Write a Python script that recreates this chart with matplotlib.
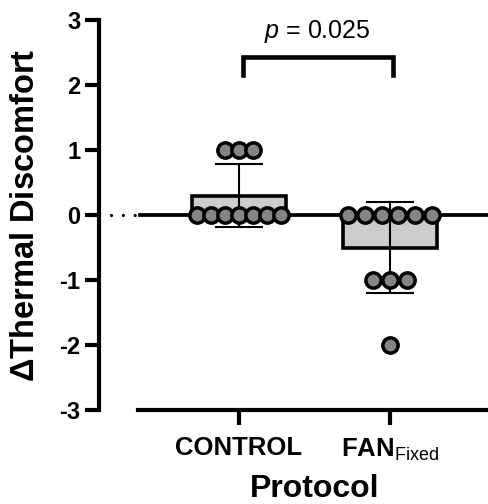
import numpy as np
import matplotlib
matplotlib.use('Agg')
import matplotlib.pyplot as plt

plt.rcParams['font.family'] = ['Liberation Sans', 'DejaVu Sans']
plt.rcParams['mathtext.fontset'] = 'custom'
plt.rcParams['mathtext.rm'] = 'Liberation Sans'
plt.rcParams['mathtext.bf'] = 'Liberation Sans:bold'
plt.rcParams['mathtext.it'] = 'Liberation Sans:italic'

# Data: change in thermal discomfort per participant
groups = ['CONTROL', r'$\mathbf{FAN}_{\mathrm{Fixed}}$']
control = [1, 1, 1, 0, 0, 0, 0, 0, 0, 0]
fan_fixed = [0, 0, 0, 0, 0, 0, -1, -1, -1, -2]
values = [control, fan_fixed]
p_text = r'$p$ = 0.025'
y_ticks = [-3, -2, -1, 0, 1, 2, 3]

means = [np.mean(v) for v in values]
sds = [np.std(v, ddof=1) for v in values]
xpos = np.arange(len(groups))

# horizontal spread of points sharing a value (per group)
spread = [0.093, 0.111]

fig = plt.figure(figsize=(4.89, 5.04), dpi=100)
ax = fig.add_axes([99 / 489, 94 / 504, 390 / 489, 390 / 504])

ax.bar(xpos, means, width=0.62, color='#cccccc', edgecolor='black',
       linewidth=2.6, zorder=2)
ax.errorbar(xpos, means, yerr=sds, fmt='none', ecolor='black',
            elinewidth=1.5, capsize=17.5, capthick=1.5, zorder=3)

for i, vals in enumerate(values):
    vals = np.array(vals)
    for v in np.unique(vals):
        k = np.sum(vals == v)
        offs = (np.arange(k) - (k - 1) / 2) * spread[i]
        ax.plot(xpos[i] + offs, np.full(k, v), 'o', ms=11, mfc='#858585',
                mec='black', mew=2.5, zorder=4, clip_on=False)

# baseline at zero: dotted stub then solid line
ax.axhline(0, xmin=0.105, xmax=1, color='black', lw=2.7, zorder=1)
ax.axhline(0, xmin=0.03, xmax=0.097, color='black', lw=2.3,
           linestyle=(0, (0.01, 3.7)), dash_capstyle='round', zorder=1)

# significance bracket
bx = [0.025, 0.025, 1.02, 1.02]
by = [2.15, 2.435, 2.435, 2.15]
ax.plot(bx, by, color='black', lw=3.3, solid_joinstyle='miter', zorder=3)
ax.text(0.52, 2.72, p_text, ha='center', va='baseline', fontsize=18)

ax.set_xlim(-0.927, 1.656)
ax.set_ylim(-3, 3)
ax.set_yticks(y_ticks)
ax.set_yticklabels([str(t) for t in y_ticks], fontweight='bold', fontsize=17)
ax.set_xticks(xpos)
ax.set_xticklabels(groups, fontweight='bold', fontsize=18.5)

for s in ('top', 'right'):
    ax.spines[s].set_visible(False)
ax.spines['left'].set_linewidth(3)
ax.spines['bottom'].set_linewidth(3)
ax.spines['bottom'].set_bounds(-0.669, 1.656)
ax.tick_params(axis='y', length=10, width=3, pad=3.5)
ax.tick_params(axis='x', length=11, width=3, pad=8)

ax.set_ylabel(r'$\mathbf{\Delta}$Thermal Discomfort', fontsize=23.5,
              fontweight='bold', labelpad=13)
ax.set_xlabel('Protocol', fontsize=23, fontweight='bold')
ax.xaxis.set_label_coords(0.554, -0.163)

fig.savefig('out.png', dpi=100)
